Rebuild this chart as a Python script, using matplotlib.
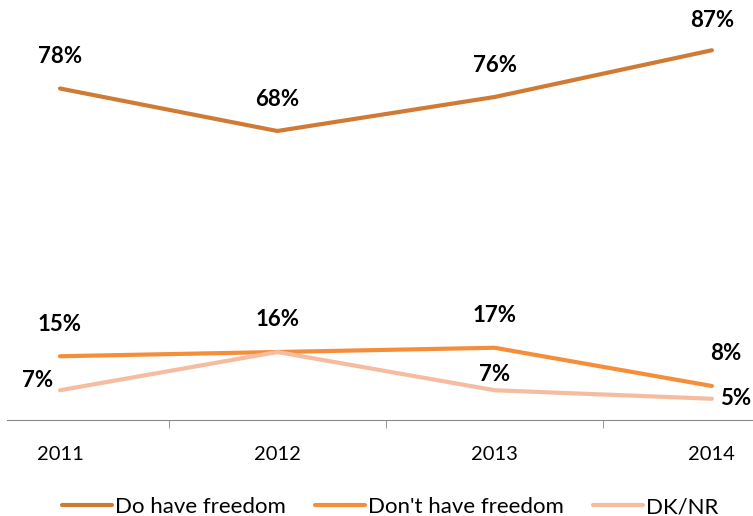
import matplotlib.pyplot as plt
import numpy as np

plt.rcParams['font.family'] = ['Lato', 'DejaVu Sans']

years = ['2011', '2012', '2013', '2014']
do_have = [78, 68, 76, 87]
dont_have = [15, 16, 17, 8]
dk_nr = [7, 16, 7, 5]

series_names = ['Do have freedom', "Don't have freedom", 'DK/NR']
colors = ['#D07B35', '#F58E3B', '#F6BC9F']

# label offsets in pixels (dx, dy); None means no label
offsets = [
    [(0, 32), (0, 32), (0, 32), (0, 30)],
    [(0, 32), (0, 32), (0, 32), (14, 32)],
    [(-22, 10), None, (0, 16), (24, 0)],
]

fig = plt.figure(figsize=(7.53, 5.16), dpi=100)
ax = fig.add_axes([7 / 753, 96 / 516, 746 / 753, 400 / 516])

x = np.arange(len(years))
all_series = [do_have, dont_have, dk_nr]
for vals, name, col, offs in zip(all_series, series_names, colors, offsets):
    ax.plot(x, vals, color=col, lw=3, label=name, solid_capstyle='round')
    for xi, v, o in zip(x, vals, offs):
        if o is None:
            continue
        ax.annotate(f'{v}%', (xi, v), xytext=o, textcoords='offset pixels',
                    ha='center', va='center', fontsize=16, fontweight='bold',
                    color='black')

ax.set_xlim(-53 / 217.3, (753 - 60) / 217.3)
ax.set_ylim(0, 400 / 4.25)
ax.set_xticks(x)
ax.set_xticklabels(years, fontsize=14.5)
ax.set_xticks([0.5, 1.5, 2.5], minor=True)
ax.tick_params(axis='x', which='major', length=0, pad=19)
ax.tick_params(axis='x', which='minor', length=6, color='#888888')
ax.set_yticks([])
for s in ['top', 'right', 'left']:
    ax.spines[s].set_visible(False)
ax.spines['bottom'].set_color('#888888')

fig.legend(loc='center', bbox_to_anchor=(0.518, 9 / 516), ncol=3, frameon=False,
           fontsize=16, handlelength=2.25, columnspacing=1.3, handletextpad=0.15)

fig.savefig('out.png', dpi=100)
